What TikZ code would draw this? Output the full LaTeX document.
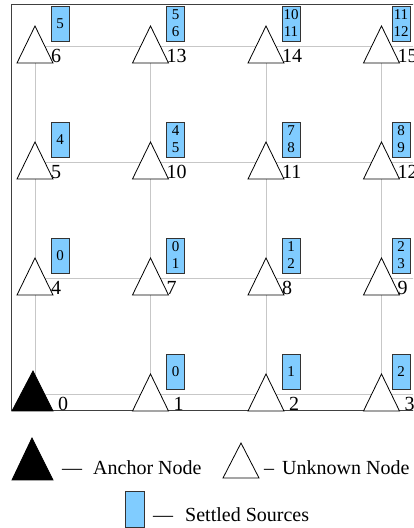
\documentclass[tikz,border=0pt]{standalone}
\usepackage{fontspec}
\setmainfont{Liberation Serif}
\definecolor{srcblue}{RGB}{128,204,255}

\begin{document}
\begin{tikzpicture}[x=1pt,y=1pt,
		grid/.style={draw=black!22, line width=0.8pt},
		frame/.style={draw=black!75, line width=1pt},
		unknown/.style={draw=black, fill=white, line width=0.8pt},
		anchornode/.style={draw=black, fill=black, line width=0.8pt},
		src/.style={rectangle, draw=black!80, fill=srcblue, inner sep=0pt, minimum width=18pt, minimum height=35pt, align=center, font=\fontsize{15}{17}\selectfont},
		num/.style={anchor=base west, inner sep=0pt, font=\fontsize{20}{24}\selectfont},
		legtext/.style={anchor=base west, inner sep=0pt, font=\fontsize{20}{24}\selectfont}]

	\clip (0,0) rectangle (413,528);

	% grid points: node/column/row
	\foreach \n/\c/\r in {0/0/0,1/1/0,2/2/0,3/3/0,4/0/1,7/1/1,8/2/1,9/3/1,5/0/2,10/1/2,11/2/2,12/3/2,6/0/3,13/1/3,14/2/3,15/3/3}
		\coordinate (n\n) at ({35+115.5*\c},{134+116*\r});

	% grid lines
	\foreach \a/\b in {6/0,13/1,14/2,15/3}
		\draw[grid] (n\a) -- (n\b);
	\foreach \a in {0,4,5,6}
		\draw[grid] (n\a) -- ([xshift=400pt]n\a);

	\draw[frame] (11,117) rectangle (430,523);

	% unknown nodes and the anchor
	\foreach \n in {1,...,15}
		\draw[unknown,shift={(n\n)}] (-18,-17) -- (18,-17) -- (0,20) -- cycle;
	\draw[anchornode,shift={(n0)}] (-23,-17) -- (18,-17) -- (-2,23) -- cycle;

	% node numbers
	\foreach \n in {0,...,3}
		\node[num] (l\n) at ([xshift=23pt,yshift=-17pt]n\n) {\n};
	\foreach \n in {4,...,15}
		\node[num] (l\n) at ([xshift=16pt,yshift=-17pt]n\n) {\n};

	% settled sources
	\foreach \n/\s in {1/0,2/1,4/0,5/4,6/5,7/{0\\1},8/{1\\2},10/{4\\5},11/{7\\8},13/{5\\6},14/{10\\11}}
		\node[src] (s\n) at ([xshift=25pt,yshift=22.5pt]n\n) {\s};
	\foreach \n/\s in {3/2,9/{2\\3},12/{8\\9},15/{11\\12}}
		\node[src] (s\n) at ([xshift=19.5pt,yshift=22.5pt]n\n) {\s};

	% legend
	\draw[anchornode] (12,48) -- (53,48) -- (32,90) -- cycle;
	\node[legtext] (anchortxt) at (62,53) {—\hspace{11pt}Anchor Node};
	\draw[unknown] (223,50) -- (259,50) -- (241,85) -- cycle;
	\node[legtext] (unknowntxt) at (264,53) {–\hspace{8pt}Unknown Node};
	\node[src, minimum width=19pt, minimum height=36pt] (legsrc) at (134.5,19) {};
	\node[legtext] (srctxt) at (153,6) {—\hspace{12pt}Settled Sources};
\end{tikzpicture}
\end{document}
